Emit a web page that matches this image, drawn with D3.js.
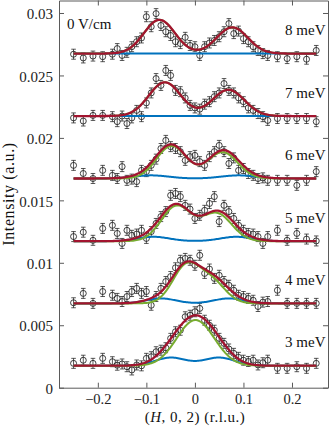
<!DOCTYPE html>
<html>
<head>
<meta charset="utf-8">
<script src="https://cdn.jsdelivr.net/npm/d3@7"></script>
<style>
    body { margin: 0; background: #fff; }
    text { font-family: "Liberation Serif", "Times New Roman", serif; }
</style>
</head>
<body>
<div id="chart"></div>
<script>
// Data (intensity in units of 1e-3 a.u.)
var hValues = [-0.25, -0.23, -0.21, -0.19,
    -0.17, -0.16, -0.15, -0.14, -0.13, -0.12, -0.11, -0.10, -0.09, -0.08, -0.07,
    -0.06, -0.05, -0.04, -0.03, -0.02, -0.01, 0, 0.01, 0.02, 0.03, 0.04, 0.05,
    0.06, 0.07, 0.08, 0.09, 0.10, 0.11, 0.12, 0.13, 0.14, 0.15,
    0.17, 0.19, 0.21, 0.23, 0.25];

var energyLabels = ["8 meV", "7 meV", "6 meV", "5 meV", "4 meV", "3 meV"];

var int8meV = [26.7, 26.4, 26.55, 26.5,
    26.7, 27.15, 26.6, 26.85, 27.3, 27.7, 28.0, 29.7, 28.9, 29.95, 29.0,
    28.5, 28.2, 27.7, 27.55, 28.05, 27.4, 27.3, 26.6, 27.3, 27.6, 27.8, 28.1,
    28.5, 29.15, 28.35, 28.55, 27.95, 27.7, 27.3, 27.0, 26.75, 26.6,
    26.5, 26.35, 26.5, 26.3, 27.0];
var int7meV = [21.6, 21.35, 21.8, 21.8,
    21.7, 21.3, 21.75, 21.15, 21.6, 22.2, 21.7, 22.8, 23.6, 24.75, 24.2,
    25.4, 25.0, 23.8, 23.7, 23.2, 22.6, 22.4, 22.3, 22.7, 22.9, 23.3, 23.6,
    24.35, 23.8, 23.6, 23.2, 22.9, 22.4, 22.2, 21.95, 21.7, 21.4,
    21.55, 21.55, 21.55, 21.55, 21.3];
var int6meV = [17.8, 17.15, 16.75, 17.4,
    17.0, 16.75, 17.7, 16.6, 16.7, 16.5, 17.4, 17.3, 17.8, 18.3, 19.15,
    19.8, 19.3, 19.15, 18.9, 18.2, 18.5, 18.6, 18.1, 17.8, 18.5, 18.9, 19.4,
    18.9, 17.95, 18.4, 17.4, 17.55, 17.15, 17.0, 16.75, 16.8, 16.6,
    16.6, 16.6, 16.2, 16.6, 17.3];
var int5meV = [12.1, 12.45, 11.8, 12.75,
    13.0, 12.35, 11.55, 12.6, 12.2, 12.3, 12.6, 11.95, 12.5, 13.15, 13.7,
    14.1, 15.4, 15.55, 15.3, 14.6, 14.3, 13.55, 13.8, 14.2, 14.75, 15.3, 13.3,
    14.6, 14.1, 13.55, 13.0, 12.6, 12.35, 12.3, 12.1, 11.55, 12.1,
    12.6, 11.8, 12.35, 11.9, 11.75];
var int4meV = [6.8, 7.55, 6.75, 7.7,
    7.4, 7.15, 6.9, 7.3, 7.7, 7.95, 7.55, 7.7, 6.6, 7.3, 7.95,
    8.5, 8.9, 9.6, 10.2, 10.35, 10.2, 9.8, 10.6, 9.15, 9.5, 8.75, 9.0,
    8.5, 8.2, 7.8, 7.4, 7.3, 7.15, 7.0, 6.5, 6.85, 6.9,
    7.8, 6.75, 6.75, 6.75, 6.75];
var int3meV = [1.95, 2.2, 1.95, 2.35,
    2.08, 1.8, 1.9, 1.68, 1.42, 1.82, 1.75, 2.35, 2.48, 2.88, 3.0,
    3.2, 3.95, 4.48, 4.6, 5.68, 5.8, 6.08, 6.35, 5.4, 5.0, 4.6, 3.95,
    3.55, 3.1, 2.75, 2.43, 2.2, 2.1, 2.2, 1.82, 2.0, 2.2,
    1.55, 1.55, 1.68, 1.55, 1.95];

var errorBars = [0.4, 0.4, 0.4, 0.4, 0.4, 0.4];

// Fit parameters (two gaussians per component)
var fitBackground = [26.75, 21.75, 16.75, 11.73, 6.75, 1.76];
var greenCentres = [[-0.073, 0.077], [-0.062, 0.069], [-0.048, 0.057], [-0.038, 0.045], [-0.018, 0.035], [-0.012, 0.018]];
var greenAmps = [[2.7, 2.1], [2.7, 2.1], [2.6, 2.1], [2.8, 2.2], [2.95, 1.7], [2.2, 1.8]];
var greenWidths = [0.032, 0.033, 0.031, 0.031, 0.028, 0.035];
var blueCentres = [[-0.09, 0.09], [-0.09, 0.09], [-0.09, 0.09], [-0.085, 0.085], [-0.07, 0.07], [-0.05, 0.05]];
var blueAmps = [[0, 0], [0, 0], [0.25, 0.25], [0.35, 0.35], [0.4, 0.4], [0.65, 0.65]];
var blueWidths = [0.035, 0.035, 0.035, 0.033, 0.03, 0.032];

var xTicks = [-0.2, -0.1, 0, 0.1, 0.2];
var yTicks = [0, 5, 10, 15, 20, 25, 30];
var yTickLabels = ["0", "0.005", "0.01", "0.015", "0.02", "0.025", "0.03"];

var seriesList = [int8meV, int7meV, int6meV, int5meV, int4meV, int3meV];

// Chart
var width = 332, height = 429;
var plot = {left: 59, right: 328, top: 0.5, bottom: 387.7};

var svg = d3.select("#chart").append("svg")
    .attr("width", width)
    .attr("height", height);

var x = d3.scaleLinear().domain([-0.28, 0.2742]).range([plot.left, plot.right]);
var y = d3.scaleLinear().domain([0, 31]).range([plot.bottom, plot.top]);

var axisColor = "#5a5a5a";

function styleAxis(g) {
    g.select(".domain").attr("stroke", axisColor).attr("stroke-width", 1);
    g.selectAll(".tick line").attr("stroke", axisColor);
    g.selectAll(".tick text").attr("fill", "#222").style("font-size", "15px");
}

svg.append("g")
    .attr("transform", "translate(0," + plot.bottom + ")")
    .call(d3.axisBottom(x).tickValues(xTicks).tickSizeInner(-5).tickSizeOuter(0).tickPadding(6.3)
        .tickFormat(function (d) { return d === 0 ? "0" : d3.format(".1f")(d); }))
    .call(styleAxis)
    .selectAll(".tick text").style("font-size", "14.5px");

svg.append("g")
    .attr("transform", "translate(0," + plot.top + ")")
    .call(d3.axisTop(x).tickValues(xTicks).tickSizeInner(-5).tickSizeOuter(0).tickFormat(""))
    .call(styleAxis);

svg.append("g")
    .attr("transform", "translate(" + plot.left + ",0)")
    .call(d3.axisLeft(y).tickValues(yTicks).tickSizeInner(-5).tickSizeOuter(0).tickPadding(6)
        .tickFormat(function (d, i) { return yTickLabels[i]; }))
    .call(styleAxis)
    .selectAll(".tick text").attr("dy", "0.38em");

svg.append("g")
    .attr("transform", "translate(" + plot.right + ",0)")
    .call(d3.axisRight(y).tickValues(yTicks).tickSizeInner(-5).tickSizeOuter(0).tickFormat(""))
    .call(styleAxis);

// data points with error bars
seriesList.forEach(function (values, s) {
    var err = errorBars[s];
    var g = svg.append("g").attr("class", "points");
    hValues.forEach(function (h, i) {
        var v = values[i];
        var px = x(h);
        g.append("line")
            .attr("x1", px).attr("x2", px)
            .attr("y1", y(v - err)).attr("y2", y(v + err))
            .attr("stroke", "#111").attr("stroke-width", 0.7);
        [v - err, v + err].forEach(function (e) {
            g.append("line")
                .attr("x1", px - 2.3).attr("x2", px + 2.3)
                .attr("y1", y(e)).attr("y2", y(e))
                .attr("stroke", "#111").attr("stroke-width", 0.7);
        });
        g.append("circle")
            .attr("cx", px).attr("cy", y(v)).attr("r", 3)
            .attr("fill", "none").attr("stroke", "#111").attr("stroke-width", 0.8);
    });
});

// fitted curves
function gauss(h, c, a, w) {
    return a * Math.exp(-(h - c) * (h - c) / (2 * w * w));
}

var curveH = d3.range(-0.25, 0.2501, 0.0025);
var line = d3.line().x(function (d) { return x(d[0]); }).y(function (d) { return y(d[1]); });

seriesList.forEach(function (values, s) {
    var bg = fitBackground[s];
    var blue = curveH.map(function (h) {
        return gauss(h, blueCentres[s][0], blueAmps[s][0], blueWidths[s]) +
            gauss(h, blueCentres[s][1], blueAmps[s][1], blueWidths[s]);
    });
    var green = curveH.map(function (h) {
        return gauss(h, greenCentres[s][0], greenAmps[s][0], greenWidths[s]) +
            gauss(h, greenCentres[s][1], greenAmps[s][1], greenWidths[s]);
    });
    svg.append("path")
        .attr("d", line(curveH.map(function (h, i) { return [h, bg + blue[i]]; })))
        .attr("fill", "none").attr("stroke", "#0072BD").attr("stroke-width", 2);
    svg.append("path")
        .attr("d", line(curveH.map(function (h, i) { return [h, bg + green[i]]; })))
        .attr("fill", "none").attr("stroke", "#77AC30").attr("stroke-width", 2);
    svg.append("path")
        .attr("d", line(curveH.map(function (h, i) { return [h, bg + green[i] + blue[i]]; })))
        .attr("fill", "none").attr("stroke", "#A2142F").attr("stroke-width", 2.3);

    svg.append("text")
        .attr("x", 325.5)
        .attr("y", y(bg + 1.47))
        .attr("text-anchor", "end")
        .style("font-size", "15px")
        .attr("fill", "#111")
        .text(energyLabels[s]);
});

svg.append("text")
    .attr("x", 67).attr("y", 28.5)
    .style("font-size", "15px").attr("fill", "#111")
    .text("0 V/cm");

// axis titles
var xTitle = svg.append("text")
    .attr("x", 195).attr("y", 421.5)
    .attr("text-anchor", "middle")
    .style("font-size", "15px").style("letter-spacing", "0.5px").attr("fill", "#111");
xTitle.append("tspan").text("(");
xTitle.append("tspan").style("font-style", "italic").text("H");
xTitle.append("tspan").text(", 0, 2)  (r.l.u.)");

svg.append("text")
    .attr("transform", "translate(14,194) rotate(-90)")
    .attr("text-anchor", "middle")
    .style("font-size", "16px").style("letter-spacing", "0.6px").attr("fill", "#111")
    .text("Intensity (a.u.)");
</script>
</body>
</html>
